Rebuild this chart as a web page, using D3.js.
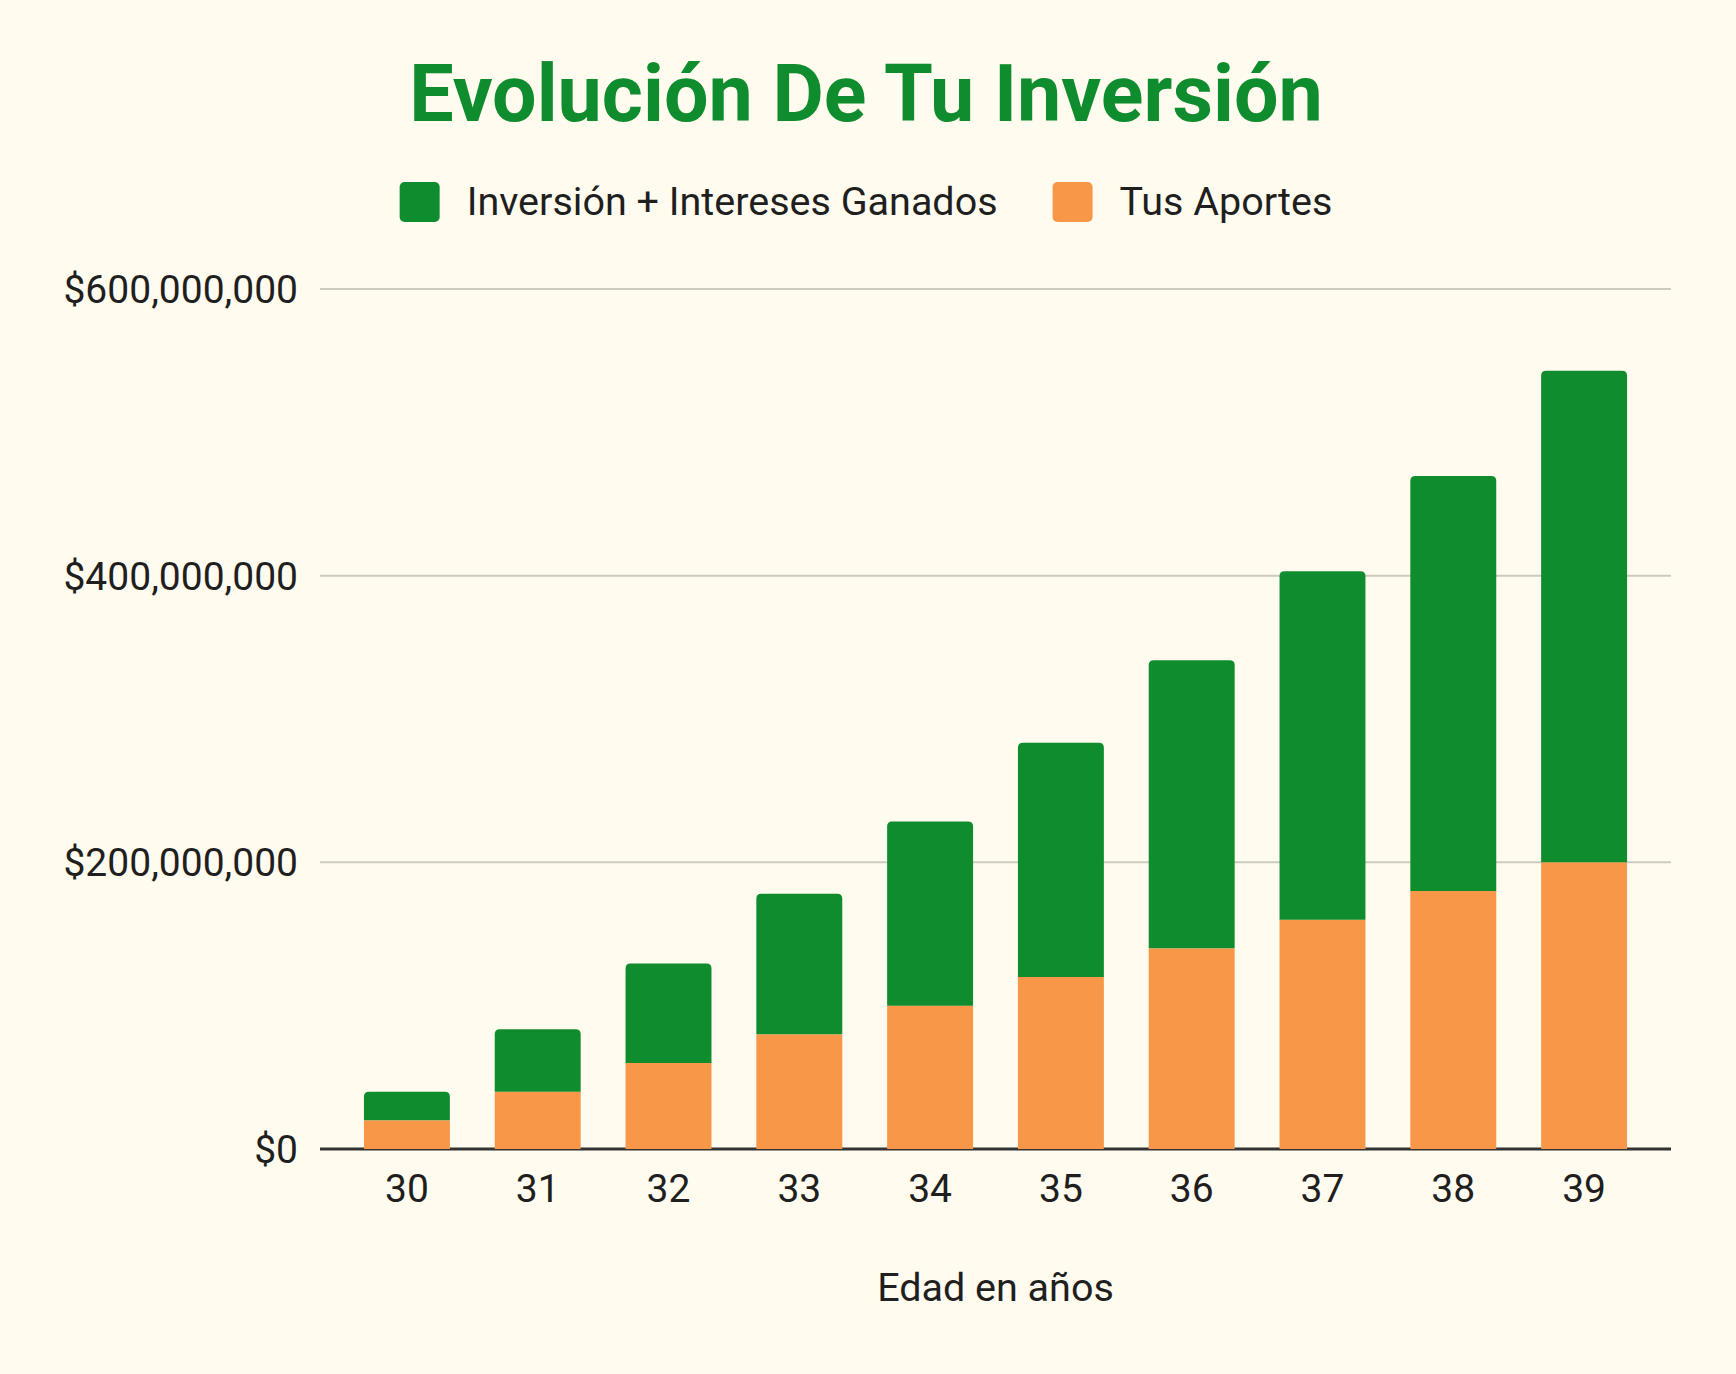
<!DOCTYPE html>
<html>
<head>
<meta charset="utf-8">
<script src="https://cdn.jsdelivr.net/npm/d3@7"></script>
<style>
  html, body { margin: 0; padding: 0; background: #fffbee; }
  svg { display: block; font-family: Roboto, "Noto Sans", sans-serif; }
</style>
</head>
<body>
<div id="chart"></div>
<script>
// data
var ages = ["30", "31", "32", "33", "34", "35", "36", "37", "38", "39"];
var aportes = [20e6, 40e6, 60e6, 80e6, 100e6, 120e6, 140e6, 160e6, 180e6, 200e6];
var intereses = [20e6, 43.5e6, 69.5e6, 98e6, 128.5e6, 163.5e6, 201e6, 243e6, 289.5e6, 343e6];
var yTicks = [0, 200e6, 400e6, 600e6];
var seriesNames = ["Inversión + Intereses Ganados", "Tus Aportes"];
var seriesColors = ["#0f8c2e", "#f79747"];

var width = 1736, height = 1374;
var plot = {left: 320, right: 1671, top: 289, bottom: 1149};

var svg = d3.select("#chart").append("svg")
    .attr("width", width)
    .attr("height", height);

svg.append("rect").attr("width", width).attr("height", height).attr("fill", "#fffbee");

var x = d3.scaleBand()
    .domain(ages)
    .range([plot.left, plot.right])
    .paddingInner(0.343)
    .paddingOuter(0.336);

var y = d3.scaleLinear()
    .domain([0, 600e6])
    .range([plot.bottom, plot.top]);

var rows = ages.map((a, i) => ({age: a, aportes: aportes[i], intereses: intereses[i]}));
var stacked = d3.stack().keys(["aportes", "intereses"])(rows);

// gridlines
svg.append("g")
    .selectAll("line")
    .data(yTicks.filter(d => d > 0))
    .enter()
    .append("line")
    .attr("x1", plot.left)
    .attr("x2", plot.right)
    .attr("y1", d => y(d))
    .attr("y2", d => y(d))
    .attr("stroke", "#cdcabe")
    .attr("stroke-width", 2);

// y labels
var fmt = d3.format("$,.0f");
svg.append("g")
    .selectAll("text")
    .data(yTicks)
    .enter()
    .append("text")
    .attr("x", 298)
    .attr("y", d => y(d))
    .attr("dy", "0.36em")
    .attr("text-anchor", "end")
    .style("font-size", "39px")
    .style("fill", "#1f1f1f")
    .text(d => fmt(d));

// baseline
svg.append("line")
    .attr("x1", plot.left)
    .attr("x2", plot.right)
    .attr("y1", y(0))
    .attr("y2", y(0))
    .attr("stroke", "#333333")
    .attr("stroke-width", 3);

// top-rounded bar path
function topRounded(x0, y0, w, h, r) {
    r = Math.min(r, h, w / 2);
    return "M" + x0 + "," + (y0 + h) +
        "V" + (y0 + r) +
        "Q" + x0 + "," + y0 + " " + (x0 + r) + "," + y0 +
        "H" + (x0 + w - r) +
        "Q" + (x0 + w) + "," + y0 + " " + (x0 + w) + "," + (y0 + r) +
        "V" + (y0 + h) + "Z";
}

// orange (bottom) segments
svg.append("g")
    .selectAll("rect")
    .data(stacked[0])
    .enter()
    .append("rect")
    .attr("x", d => x(d.data.age))
    .attr("width", x.bandwidth())
    .attr("y", d => y(d[1]))
    .attr("height", d => y(d[0]) - y(d[1]))
    .attr("fill", seriesColors[1]);

// green (top) segments
svg.append("g")
    .selectAll("path")
    .data(stacked[1])
    .enter()
    .append("path")
    .attr("d", d => topRounded(x(d.data.age), y(d[1]), x.bandwidth(), y(d[0]) - y(d[1]), 5))
    .attr("fill", seriesColors[0]);

// x labels
svg.append("g")
    .selectAll("text")
    .data(ages)
    .enter()
    .append("text")
    .attr("x", d => x(d) + x.bandwidth() / 2)
    .attr("y", 1202)
    .attr("text-anchor", "middle")
    .style("font-size", "39px")
    .style("fill", "#1f1f1f")
    .text(d => d);

// axis title
svg.append("text")
    .attr("x", (plot.left + plot.right) / 2)
    .attr("y", 1301)
    .attr("text-anchor", "middle")
    .style("font-size", "39.5px")
    .style("fill", "#1f1f1f")
    .text("Edad en años");

// title
svg.append("text")
    .attr("x", 866)
    .attr("y", 121)
    .attr("text-anchor", "middle")
    .style("font-size", "79px")
    .style("font-weight", "bold")
    .style("fill", "#0f8c2e")
    .text("Evolución De Tu Inversión");

// legend
var legend = svg.append("g");
var lx = 0;
seriesNames.forEach(function(name, i) {
    var item = legend.append("g").attr("transform", "translate(" + lx + ",0)");
    item.append("rect")
        .attr("x", 0).attr("y", 182)
        .attr("width", 40).attr("height", 40)
        .attr("rx", 5)
        .attr("fill", seriesColors[i]);
    var t = item.append("text")
        .attr("x", 67).attr("y", 215)
        .style("font-size", "39.5px")
        .style("fill", "#1f1f1f")
        .text(name);
    lx += 67 + t.node().getComputedTextLength() + 55;
});
var legendWidth = lx - 55;
legend.attr("transform", "translate(" + (866 - legendWidth / 2) + ",0)");
</script>
</body>
</html>
